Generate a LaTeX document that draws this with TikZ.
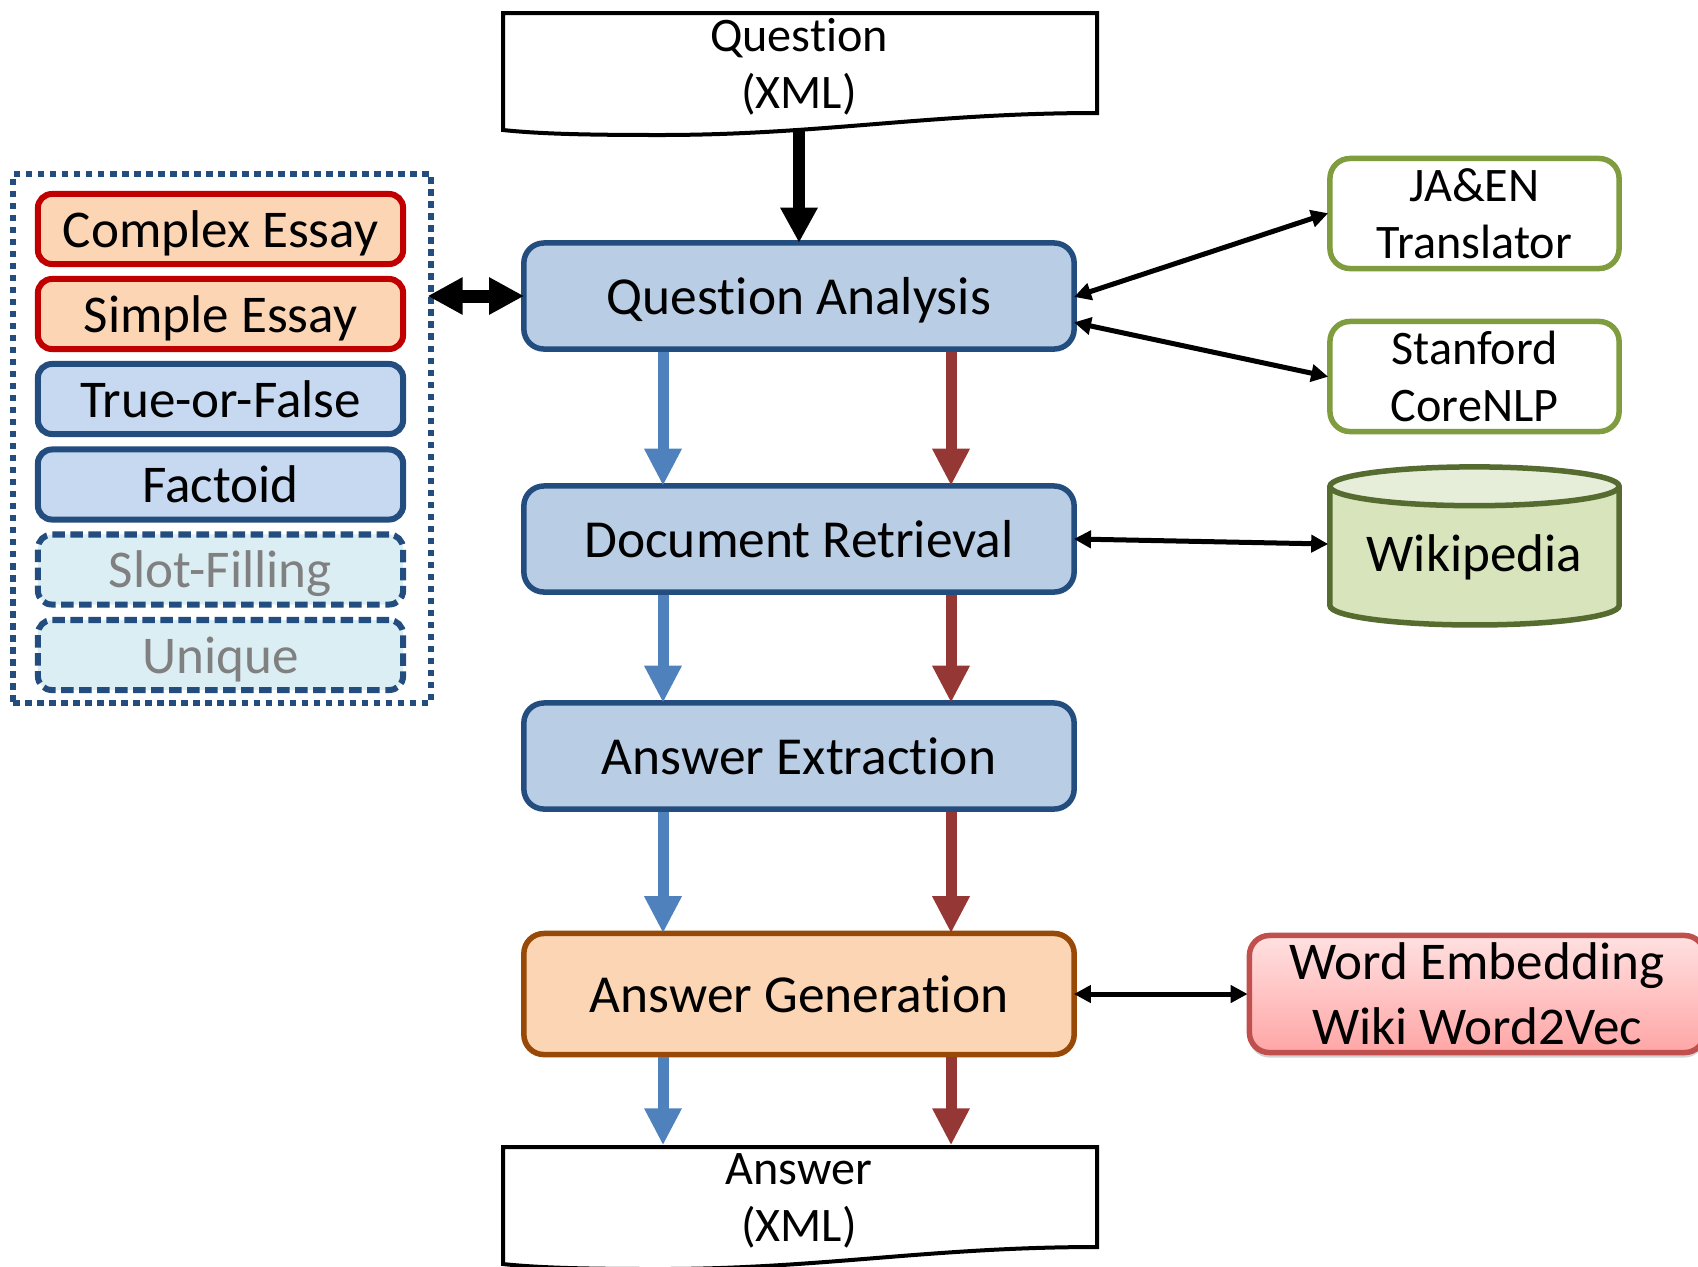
\documentclass[tikz,border=0pt]{standalone}
\usepackage{fontspec}
\setmainfont[Ligatures=NoCommon]{Carlito}
\usetikzlibrary{arrows.meta,shapes.geometric,shadows}

\definecolor{boxblue}{HTML}{B9CDE5}
\definecolor{typeblue}{HTML}{C6D9F1}
\definecolor{palecyan}{HTML}{DBEEF4}
\definecolor{navy}{HTML}{234C7F}
\definecolor{peach}{HTML}{FCD5B5}
\definecolor{brownline}{HTML}{984807}
\definecolor{redline}{HTML}{C00000}
\definecolor{leaf}{HTML}{7F9C3F}
\definecolor{wikifill}{HTML}{D8E4BC}
\definecolor{wikitop}{HTML}{E6EEDA}
\definecolor{wikiline}{HTML}{556B2F}
\definecolor{flowblue}{HTML}{4F81BD}
\definecolor{flowred}{HTML}{953735}
\definecolor{wordline}{HTML}{C0504D}

\tikzset{
    stagebox/.style={draw=navy, fill=boxblue, line width=0.055cm, rounded corners=0.2cm,
        minimum width=5.5cm, minimum height=1.06cm, inner sep=0pt,
        text height=0.36cm, text depth=0cm,
        font=\fontsize{15.2}{18}\selectfont},
    typebox/.style={draw=navy, fill=typeblue, line width=0.06cm, rounded corners=0.14cm,
        minimum width=3.65cm, minimum height=0.7cm, inner sep=0pt,
        text height=0.36cm, text depth=0cm,
        font=\fontsize{15.1}{18}\selectfont},
    essaybox/.style={typebox, draw=redline, fill=peach},
    unusedbox/.style={typebox, fill=palecyan, text=gray, dash pattern=on 0.125cm off 0.055cm},
    toolbox/.style={draw=leaf, fill=white, line width=0.055cm, rounded corners=0.2cm,
        minimum width=2.89cm, minimum height=1.1cm, inner sep=0pt, align=center,
        font=\fontsize{13.7}{16.3}\selectfont},
    docnode/.style={minimum width=5.94cm, minimum height=1.15cm, inner sep=0pt, align=center,
        font=\fontsize{13.7}{16.3}\selectfont},
    docline/.style={draw=black, fill=white, line width=0.04cm},
    flowa/.style={draw=flowblue, line width=0.11cm, shorten >=-0.025cm, -{Triangle[length=0.37cm,width=0.35cm]}},
    flowb/.style={draw=flowred, line width=0.11cm, shorten >=-0.025cm, -{Triangle[length=0.37cm,width=0.35cm]}},
    bigarrow/.style={line width=0.12cm, shorten >=-0.025cm, -{Triangle[length=0.35cm,width=0.35cm]}},
    thinarrow/.style={line width=0.05cm, shorten <=-0.03cm, shorten >=-0.01cm, {Triangle[length=0.17cm,width=0.17cm]}-{Triangle[length=0.17cm,width=0.17cm]}}
}

\begin{document}
\begin{tikzpicture}[x=0.01cm, y=-0.01cm]
    \clip (0, 0) rectangle (1698, 1266);

    % documents
    \draw [docline] (503, 13) -- (1097, 13) -- (1097, 113)
        .. controls (930, 113) and (820, 135) .. (660, 135)
        .. controls (590, 135) and (540, 134) .. (503, 130) -- cycle;
    \draw [docline] (503, 1147) -- (1097, 1147) -- (1097, 1247)
        .. controls (930, 1247) and (820, 1269) .. (660, 1269)
        .. controls (590, 1269) and (540, 1268) .. (503, 1264) -- cycle;
    \node [docnode] (question) at (799, 67) {Question\\(XML)};
    \node [docnode] (answer) at (799, 1201) {Answer\\(XML)};
    \coordinate (questionend) at (799, 128);

    % pipeline
    \node [stagebox] (analysis) at (799, 296) {Question Analysis};
    \node [stagebox] (retrieval) at (799, 539) {Document Retrieval};
    \node [stagebox] (extraction) at (799, 756) {Answer Extraction};
    \node [stagebox, draw=brownline, fill=peach, minimum height=1.21cm] (generation) at (799, 994) {Answer Generation};

    % question types
    \node [draw=navy, line width=0.06cm, dash pattern=on 0.065cm off 0.055cm,
        minimum width=4.17cm, minimum height=5.29cm] (types) at (222, 438.5) {};
    \node [essaybox] (complex) at (220.5, 229) {Complex Essay};
    \node [essaybox] (simple) at (220.5, 314) {Simple Essay};
    \node [typebox] (truefalse) at (220.5, 399) {True-or-False};
    \node [typebox] (factoid) at (220.5, 484.5) {Factoid};
    \node [unusedbox] (slot) at (220.5, 569.5) {Slot-Filling};
    \node [unusedbox] (unique) at (220.5, 655) {Unique};

    % resources
    \node [toolbox] (translator) at (1474.5, 213.5) {JA\&EN\\Translator};
    \node [toolbox] (corenlp) at (1474.5, 376.5) {Stanford\\CoreNLP};
    \node [cylinder, shape border rotate=90, shape aspect=0.18, draw=wikiline, line width=0.055cm,
        cylinder uses custom fill, cylinder body fill=wikifill, cylinder end fill=wikitop,
        minimum width=2.89cm, minimum height=1.58cm, inner sep=0pt,
        font=\fontsize{15.1}{18}\selectfont] (wikipedia) at (1474.5, 557) {Wikipedia};
    \node [draw=wordline, line width=0.055cm, rounded corners=0.2cm, top color=red!12, bottom color=red!35!white,
        drop shadow={shadow xshift=0cm, shadow yshift=-0.05cm, opacity=0.35},
        minimum width=4.55cm, minimum height=1.17cm, inner sep=0pt, align=center,
        font=\fontsize{15.1}{18.5}\selectfont] (embedding) at (1477, 994) {Word Embedding\\Wiki Word2Vec};

    \coordinate (blueline) at (663, 0);
    \coordinate (redline) at (951, 0);

    \draw [bigarrow] (questionend) -- (analysis.north);
    \draw [bigarrow, line width=0.13cm, shorten <=-0.06cm, shorten >=-0.03cm, {Triangle[length=0.35cm,width=0.35cm]}-{Triangle[length=0.35cm,width=0.35cm]}]
        (analysis.west -| types.east) -- (analysis.west);

    \draw [flowa] (analysis.south -| blueline) -- (retrieval.north -| blueline);
    \draw [flowb] (analysis.south -| redline) -- (retrieval.north -| redline);
    \draw [flowa] (retrieval.south -| blueline) -- (extraction.north -| blueline);
    \draw [flowb] (retrieval.south -| redline) -- (extraction.north -| redline);
    \draw [flowa] (extraction.south -| blueline) -- (generation.north -| blueline);
    \draw [flowb] (extraction.south -| redline) -- (generation.north -| redline);
    \draw [flowa] (generation.south -| blueline) -- (answer.north -| blueline);
    \draw [flowb] (generation.south -| redline) -- (answer.north -| redline);

    \draw [thinarrow] (analysis.east) -- (translator.west);
    \draw [thinarrow] ([yshift=-0.27cm]analysis.east) -- (corenlp.west);
    \draw [thinarrow] (retrieval.east) -- ([yshift=0.13cm]wikipedia.west);
    \draw [thinarrow] (generation.east) -- (embedding.west);
\end{tikzpicture}
\end{document}
